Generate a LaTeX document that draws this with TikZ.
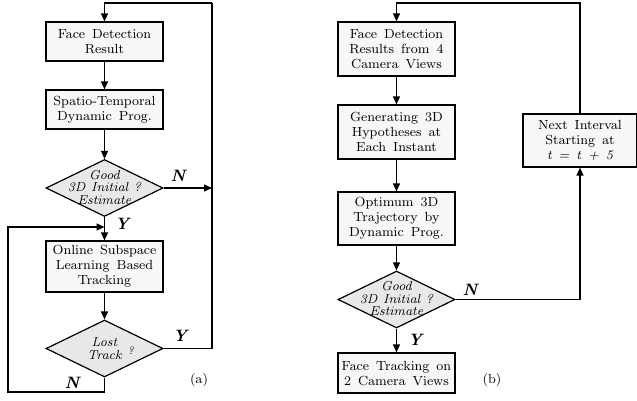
\documentclass[tikz,border=0pt]{standalone}
\usetikzlibrary{shapes.geometric,arrows.meta}
\font\myboxfont=cmr8 at 13.2pt
\font\myitfont=cmti8 at 13pt
\font\myqfont=cmti8 at 11pt
\font\myynfont=cmbxti10 at 16.5pt
\newcommand\myboxsty{\myboxfont\baselineskip=15pt\relax\spaceskip=0.5em plus 0.1em\relax}
\newcommand\mydsty{\myitfont\baselineskip=12.5pt\relax\spaceskip=0.4em plus 0.1em\relax}
\newcommand\myltsty{\myitfont\baselineskip=13.5pt\relax}
\begin{document}
\begin{tikzpicture}[x=1pt,y=1pt,
  box/.style={draw,line width=1.2pt,fill=gray!6,minimum width=117pt,inner sep=0pt,align=center,font=\myboxsty},
  dia/.style={diamond,draw,line width=1.2pt,fill=gray!18,minimum width=117pt,minimum height=57pt,inner sep=0pt},
  dtext/.style={align=center,font=\mydsty,inner sep=0pt},
  arr/.style={line width=1.2pt,-{Triangle[length=8pt,width=7pt]}},
  ln/.style={line width=1.2pt},
  yn/.style={font=\myynfont},
  sublabel/.style={font=\myboxfont}]
\useasboundingbox (0,0) rectangle (637,-400);
% (a)
\node[box,minimum height=39pt] (a1) at (104.5,-41.5) {Face Detection\\Result};
\node[box,minimum height=39pt] (a2) at (104.5,-109.5) {Spatio-Temporal\\Dynamic Prog.};
\node[dia] (d1) at (104.5,-188) {};
\node[dtext] (d1t) at (104.5,-187) {Good\\3D Initial ?\\Estimate};
\node[box,minimum height=51pt] (a3) at (104.5,-266.5) {Online Subspace\\Learning Based\\Tracking};
\node[dia] (d2) at (104.5,-348.5) {};
\node[dtext,font=\myltsty] (d2t) at (104.5,-348.5) {Lost\\Track};
\node[font=\myqfont,inner sep=0pt] (d2q) at (131,-351) {?};
\coordinate (tr) at (212,-3);
\coordinate (tl) at (104.5,-3);
\coordinate (rs) at (212,-188);
\coordinate (ry) at (212,-348.5);
\coordinate (bl) at (104.5,-392);
\coordinate (bll) at (8,-392);
\coordinate (lu) at (8,-227);
\coordinate (lm) at (104.5,-227);
\draw[arr] (tr) -- (tl) -- (a1.north);
\draw[arr] (a1) -- (a2);
\draw[arr] (a2) -- (d1);
\draw[arr] (d1) -- (a3);
\draw[arr] (d2.south) -- (bl) -- (bll) -- (lu) -- (lm);
\draw[arr] (a3) -- (d2);
\draw[ln] (d2.east) -- (ry) -- (tr);
\draw[arr] (d1.east) -- (rs);
\node[yn] (ya1) at (122,-224) {Y};
\node[yn] (na1) at (178,-176) {N};
\node[yn] (ya2) at (180,-336) {Y};
\node[yn] (na2) at (72,-383) {N};
\node[sublabel] (la) at (199,-380) {(a)};
% (b)
\node[box,minimum height=54pt] (b1) at (396.5,-49) {Face Detection\\Results from 4\\Camera Views};
\node[box,minimum height=54pt] (b2) at (396.5,-132) {Generating 3D\\Hypotheses at\\Each Instant};
\node[box,minimum height=53pt] (b3) at (396.5,-218.5) {Optimum 3D\\Trajectory by\\Dynamic Prog.};
\node[dia] (db) at (396.5,-299.5) {};
\node[dtext] (dbt) at (396.5,-298.5) {Good\\3D Initial ?\\Estimate};
\node[box,minimum height=40pt] (b4) at (396.5,-373) {Face Tracking on\\2 Camera Views};
\node[box,minimum width=114pt,minimum height=53pt] (ni) at (580,-140.5) {Next Interval\\Starting at\\{\myitfont t = t + 5}};
\coordinate (br) at (ni.center |- db.east);
\coordinate (btr) at (580,-3);
\coordinate (btl) at (396.5,-3);
\draw[arr] (db.east) -- (br) -- (ni.south);
\draw[arr] (ni.north) -- (btr) -- (btl) -- (b1.north);
\draw[arr] (b1) -- (b2);
\draw[arr] (b2) -- (b3);
\draw[arr] (b3) -- (db);
\draw[arr] (db) -- (b4);
\node[yn] (yb) at (415,-340) {Y};
\node[yn] (nb) at (470,-290) {N};
\node[sublabel] (lb) at (492,-380) {(b)};
\end{tikzpicture}
\end{document}
